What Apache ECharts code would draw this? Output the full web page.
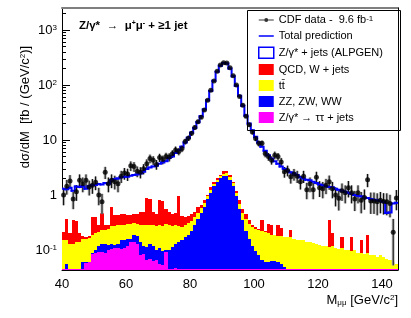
<!DOCTYPE html>
<html><head><meta charset="utf-8">
<script src="https://cdn.jsdelivr.net/npm/echarts@6/dist/echarts.min.js"></script>
<style>html,body{margin:0;padding:0;background:#fff}#c{width:411px;height:318px}</style>
</head><body><div id="c"></div>
<script>
// ---- bins (low edge, GeV/c^2), width 1 ----
const binLow = [40,41,42,43,44,45,46,47,48,49,50,51,52,53,54,55,56,57,58,59,60,61,62,63,64,65,66,67,68,69,
70,71,72,73,74,75,76,77,78,79,80,81,82,83,84,85,86,87,88,89,90,91,92,93,94,95,96,97,98,99,
100,101,102,103,104,105,106,107,108,109,110,111,112,113,114,115,116,117,118,119,120,121,122,123,124,125,126,127,128,129,
130,131,132,133,134,135,136,137,138,139,140,141,142,143,144];
const BIN_W = 1;

// ---- stacked predictions (fb / GeV/c^2) ----
const tautau = [.0455,.0455,.0455,.0455,.0455,.0455,.0455,.058,.06,.085,.09,.092,.093,.09,.1,.105,.11,.11,.105,.11,
.12,.14,.14,.13,.08,.085,.065,.07,.062,.065,.055,.053,.093,.0455,.0455,.047,.0455,.0455,.0455,.0455,
.0455,.0455,.0455,.0455,.0455,.0455,.0455,.0455,.0455,.0455,.0455,.0455,.0455,.0455,.0455,.0455,.0455,.0455,.0455,.0455,
.0455,.0455,.0455,.0455,.0455,.0455,.0455,.0455,.0455,.0455,.0455,.0455,.0455,.0455,.0455,.0455,.0455,.0455,.0455,.0455,
.0455,.0455,.0455,.0455,.0455,.0455,.0455,.0455,.0455,.0455,.0455,.0455,.0455,.0455,.0455,.0455,.0455,.0455,.0455,.0455,
.0455,.0455,.0455,.0455,.0455];
const diboson = [0,.0095,0,0,0,0,.0145,.002,0,.005,.01,.028,.037,.04,.025,.025,.015,.02,.045,.04,
.04,.02,.05,.05,.06,.035,.05,.06,.058,.035,.055,.042,.007,.0545,.0695,.083,.0945,.1045,.1245,.1445,
.1745,.2345,.3145,.4245,.5545,.8045,1.0545,1.4045,1.7045,1.9545,2.1545,2.1545,1.8545,1.4045,.9045,.5045,.3045,.1745,.1145,.0745,
.0495,.0345,.0195,.0145,.0145,.0165,.0165,.0145,.0095,.0045,0,0,0,0,0,0,0,0,0,0,
0,0,0,0,0,0,0,0,0,0,0,0,0,0,0,0,0,0,0,0,0,0,0,0,0];
const ttbar = [.1045,.095,.0845,.0845,.0945,.0945,.1,.1,.105,.1,.1,.09,.1,.1,.115,.14,.145,.15,.13,.14,
.14,.14,.12,.12,.15,.17,.175,.16,.16,.17,.17,.175,.2,.18,.155,.15,.13,.11,.12,.12,
.12,.12,.11,.11,.12,.1,.15,.15,.15,.2,.25,.3,.25,.2,.15,.15,.13,.14,.14,.14,
.145,.15,.155,.15,.14,.128,.128,.12,.125,.12,.1245,.1245,.1145,.1095,.1095,.1045,.0945,.0945,.0895,.0845,
.0795,.0745,.0745,.0695,.0745,.0645,.0595,.0645,.0545,.0545,.0495,.0545,.0445,.0445,.0395,.0445,.0345,.0345,.0295,.0345,
.0295,.0245,.0195,.0145,.0095];
const qcdW = [.06,.22,.07,.22,.2,.06,.02,.01,.015,.21,.2,.07,.24,.05,.04,.33,.16,.15,.18,.16,
.14,.13,.15,.15,.21,.21,.59,.56,.22,.18,.52,.51,.25,.22,.18,.2,.68,.16,.11,.11,
.11,.1,.13,.08,.08,.05,.15,.1,.1,.15,.25,.2,.15,.1,.1,.1,.07,.09,.05,.02,
.02,.01,.13,.01,.1,.095,0,.1,.07,0,0,.06,0,0,0,0,0,0,0,0,
0,0,0,.235,.08,0,0,.06,0,0,.075,0,0,.065,0,.1,0,0,0,0,0,0,0,0,0];
const zjets = [1.09,.9,1.15,.85,1.09,1.2,1.27,1.13,1.27,1.1,1.12,1.3,1.08,1.37,1.32,1.25,1.52,1.57,1.64,1.7,
1.71,1.82,1.84,1.9,1.95,2.15,2.1,2.3,2.8,2.95,2.9,3.12,3.55,4.2,4.55,5.32,5.65,7.08,8.6,10.58,
13.05,16.0,20.4,26.34,35.2,51.0,76.6,118.3,173.0,222.65,247.3,242.3,197.7,143.25,95.8,63.2,41.45,27.55,19.65,14.72,
11.24,8.76,7.15,6.18,5.0,4.315,3.91,3.42,3.05,2.83,2.58,2.37,2.29,2.145,1.945,1.85,1.76,1.71,1.615,1.52,
1.425,1.38,1.33,1.05,1.18,1.19,1.145,1.03,1.05,1.0,.88,.9,.88,.795,.815,.69,.77,.74,.725,.7,
.675,.4,.415,.64,.665];

// ---- CDF data (fb / GeV/c^2) and relative uncertainty ----
const cdfData = [1.0,1.45,1.8,.85,1.15,1.85,1.6,1.85,1.4,1.5,1.7,1.0,.75,2.6,1.6,1.85,1.75,1.6,2.2,2.5,
2.4,3.4,3.3,2.7,2.6,3.0,3.7,4.6,4.3,3.6,4.8,4.4,5.0,4.9,5.6,6.6,6.2,7.0,9.4,10.8,
13.2,16.8,21.5,26,35,53,80,118,178,230,255,252,205,148,100,62,43,27,19,14,
10.7,8.7,8.7,5.7,5.0,4.3,5.3,5.0,4.0,2.65,2.8,2.15,2.4,2.2,1.75,2.2,1.25,1.6,1.25,2.1,
1.35,1.3,1.5,1.75,1.3,1.0,.87,1.2,1.1,1.35,1.1,.85,1.1,.8,.9,1.9,.78,.78,.75,.8,
.76,.75,.7,.21,.88];
const dataRelErr = [.35,.3,.28,.35,.32,.28,.3,.28,.3,.3,.28,.35,.4,.25,.3,.28,.28,.3,.25,.24,
.25,.2,.2,.22,.23,.21,.2,.18,.18,.2,.17,.18,.17,.17,.16,.15,.15,.14,.12,.11,
.1,.09,.08,.07,.06,.05,.04,.03,.03,.03,.03,.03,.03,.03,.04,.05,.06,.07,.08,.1,
.11,.12,.12,.15,.16,.17,.16,.16,.18,.22,.22,.25,.24,.25,.28,.25,.33,.3,.33,.26,
.32,.33,.31,.29,.33,.38,.4,.35,.36,.33,.36,.4,.36,.42,.4,.27,.42,.42,.43,.42,
.42,.43,.44,.75,.4];

// ---- axis ticks ----
const yMinorTicks = [0.05,0.06,0.07,0.08,0.09,0.2,0.3,0.4,0.5,0.6,0.7,0.8,0.9,2,3,4,5,6,7,8,9,
20,30,40,50,60,70,80,90,200,300,400,500,600,700,800,900,2000];

const X_MIN = 40, X_MAX = 145, Y_MIN = 0.04329, Y_MAX = 2512;
const FONT = '"Liberation Sans", Arial, Helvetica, sans-serif';
const DATA_NAME = 'CDF data - 9.6 fb-1';

const layerDefs = [
  {name: 'Z/γ* → ττ + jets', vals: tautau, color: '#ff00ff'},
  {name: 'ZZ, ZW, WW', vals: diboson, color: '#0000ff'},
  {name: 'tt\u0304', vals: ttbar, color: '#ffff00'},
  {name: 'QCD, W + jets', vals: qcdW, color: '#ff0000'},
  {name: 'Z/γ* + jets (ALPGEN)', vals: zjets, color: '#ffffff'}
];

const series = [];
let below = binLow.map(() => Y_MIN);
let running = binLow.map(() => 0);
layerDefs.forEach(L => {
  running = running.map((r, i) => r + L.vals[i]);
  const top = running.slice();
  const bot = below.slice();
  series.push({
    type: 'custom', name: L.name, coordinateSystem: 'cartesian2d', clip: true, silent: true, z: 2,
    itemStyle: {color: L.color},
    encode: {x: [0, 1], y: [2, 3]},
    data: binLow.map((lo, i) => [lo, lo + BIN_W, bot[i], Math.max(top[i], bot[i])]),
    renderItem: function (params, api) {
      const p0 = api.coord([api.value(0), api.value(2)]);
      const p1 = api.coord([api.value(1), api.value(3)]);
      const x0 = Math.round(p0[0]), x1 = Math.round(p1[0]);
      const yb = Math.round(p0[1]), yt = Math.round(p1[1]);
      if (yb - yt <= 0) return null;
      return {type: 'rect', shape: {x: x0, y: yt, width: x1 - x0, height: yb - yt}, style: {fill: L.color}};
    }
  });
  below = top.map((t, i) => Math.max(t, below[i]));
});
const total = running;

// data error bars (behind the prediction line)
series.push({
  type: 'custom', name: 'dataErr', coordinateSystem: 'cartesian2d', clip: true, silent: true, z: 3,
  encode: {x: 0, y: [1, 2]},
  data: binLow.map((lo, i) => [lo + BIN_W / 2, cdfData[i] * (1 - dataRelErr[i]), cdfData[i] * (1 + dataRelErr[i])]),
  renderItem: function (params, api) {
    const x = api.value(0);
    const lo = api.coord([x, api.value(1)]);
    const hi = api.coord([x, api.value(2)]);
    return {type: 'group', children: [
      {type: 'rect', shape: {x: lo[0] - 1.5, y: hi[1], width: 3, height: lo[1] - hi[1]}, style: {fill: '#bcbcbc'}},
      {type: 'line', shape: {x1: lo[0], y1: lo[1], x2: hi[0], y2: hi[1]}, style: {stroke: '#000', lineWidth: 1}}
    ]};
  }
});

// total prediction step line
series.push({
  type: 'custom', name: 'Total prediction', coordinateSystem: 'cartesian2d', clip: true, silent: true, z: 4,
  itemStyle: {color: '#0000ff'},
  encode: {x: [0, 1], y: [2, 3]},
  data: binLow.map((lo, i) => [lo, lo + BIN_W, total[i], i < total.length - 1 ? total[i + 1] : total[i]]),
  renderItem: function (params, api) {
    const a = api.coord([api.value(0), api.value(2)]);
    const b = api.coord([api.value(1), api.value(2)]);
    const c = api.coord([api.value(1), api.value(3)]);
    return {type: 'polyline', shape: {points: [a, b, c]},
      style: {stroke: '#0000ff', lineWidth: 2, fill: null, lineCap: 'square', lineJoin: 'miter'}};
  }
});

// data points
series.push({
  type: 'scatter', name: DATA_NAME, z: 5, silent: true,
  symbol: 'circle', symbolSize: 5,
  itemStyle: {color: '#000'},
  data: binLow.map((lo, i) => [lo + BIN_W / 2, cdfData[i]])
});

const supRich = {
  sup: {fontSize: 8, verticalAlign: 'top', fontFamily: FONT, color: '#000'},
  sub: {fontSize: 8, verticalAlign: 'bottom', fontFamily: FONT, color: '#000'}
};

const yLabelFmt = function (v) {
  const e = Math.round(Math.log10(v));
  if (e === 0) return '1';
  if (e === 1) return '10';
  return '10{sup|' + (e < 0 ? '-' + (-e) : e) + '}';
};

const option = {
  animation: false,
  backgroundColor: '#fff',
  grid: {left: 62, right: 13, top: 8, bottom: 48, containLabel: false},
  title: {
    left: 74, top: 15,
    text: '{b|Z/γ*}  {n|→  μ}{s|+}{n|μ}{s|-}{b| + ≥1 jet}',
    textStyle: {
      fontFamily: FONT, fontSize: 12,
      rich: {
        b: {fontFamily: FONT, fontSize: 11.5, fontWeight: 'bold', color: '#000'},
        n: {fontFamily: FONT, fontSize: 11.5, color: '#000'},
        s: {fontFamily: FONT, fontSize: 7, verticalAlign: 'top', color: '#000'}
      }
    }
  },
  legend: {
    orient: 'vertical', left: 258, top: 14.5, padding: 0,
    itemWidth: 15, itemHeight: 11, itemGap: 5.0,
    selectedMode: false,
    textStyle: {fontFamily: FONT, fontSize: 11, color: '#000', rich: supRich},
    formatter: function (name) {
      if (name === DATA_NAME) return 'CDF data -  9.6 fb{sup|-1}';
      return name;
    },
    data: [
      {name: DATA_NAME, icon: 'path://M0,0h0.01v0.01h-0.01z M0,5h15v1h-15z M5.5,5.5a2,2 0 1,1 4,0a2,2 0 1,1 -4,0z M15,11h-0.01v-0.01h0.01z', itemStyle: {color: '#000', borderWidth: 0}},
      {name: 'Total prediction', icon: 'path://M0,0h0.01v0.01h-0.01z M0,4.75h15v1.5h-15z M15,11h-0.01v-0.01h0.01z', itemStyle: {color: '#0000ff'}},
      {name: 'Z/γ* + jets (ALPGEN)', icon: 'rect', itemStyle: {color: '#ffffff', borderColor: '#0000ff', borderWidth: 1.5}},
      {name: 'QCD, W + jets', icon: 'rect', itemStyle: {color: '#ff0000'}},
      {name: 'tt\u0304', icon: 'rect', itemStyle: {color: '#ffff00'}},
      {name: 'ZZ, ZW, WW', icon: 'rect', itemStyle: {color: '#0000ff'}},
      {name: 'Z/γ* → ττ + jets', icon: 'rect', itemStyle: {color: '#ff00ff'}}
    ]
  },
  graphic: [
    {type: 'rect', left: 245, top: 8, shape: {width: 153, height: 120}, style: {fill: null, stroke: '#000', lineWidth: 1}, z: 10, silent: true},
    {type: 'text', x: 25, y: 107, rotation: Math.PI / 2, silent: true,
      style: {text: 'dσ/dM  [fb / (GeV/c{sup|2})]', fontFamily: FONT, fontSize: 13, fill: '#000',
        align: 'center', verticalAlign: 'middle', rich: supRich}}
  ],
  xAxis: [
    {
      type: 'value', min: X_MIN, max: X_MAX, interval: 20,
      axisLine: {show: true, lineStyle: {color: '#000', width: 1}},
      axisTick: {show: true, inside: true, length: 8, lineStyle: {color: '#000'}},
      splitLine: {show: false},
      axisLabel: {fontFamily: FONT, fontSize: 13, color: '#000', margin: 8, showMaxLabel: false},
      name: 'M{sub|μμ} [GeV/c{sup|2}]',
      nameLocation: 'end', nameGap: 0,
      nameTextStyle: {fontFamily: FONT, fontSize: 13, color: '#000', align: 'right', verticalAlign: 'top', padding: [24, 0, 0, 0], rich: supRich}
    },
    {
      type: 'value', position: 'top', min: X_MIN, max: X_MAX,
      axisLine: {show: true, lineStyle: {color: '#7f7f7f', width: 2}},
      axisTick: {show: false}, axisLabel: {show: false}, splitLine: {show: false}
    }
  ],
  yAxis: [
    {
      type: 'log', logBase: 10, min: Y_MIN, max: Y_MAX,
      axisLine: {show: true, lineStyle: {color: '#000', width: 1}},
      axisTick: {show: true, inside: true, length: 8, lineStyle: {color: '#000'}},
      splitLine: {show: false},
      axisLabel: {fontFamily: FONT, fontSize: 13, color: '#000', margin: 5, showMinLabel: false, showMaxLabel: false,
        formatter: yLabelFmt, rich: supRich}
    },
    {
      type: 'log', logBase: 10, min: Y_MIN, max: Y_MAX, position: 'right', z: 10,
      axisLine: {show: true, onZero: false, lineStyle: {color: '#000', width: 1}},
      axisTick: {show: false}, axisLabel: {show: false}, splitLine: {show: false}
    },
    {
      type: 'log', logBase: 10, min: Y_MIN, max: Y_MAX, position: 'left',
      axisLine: {show: false},
      axisTick: {show: true, inside: true, length: 4, customValues: yMinorTicks, lineStyle: {color: '#000'}},
      axisLabel: {show: false}, splitLine: {show: false}
    }
  ],
  series: series
};

const chart = echarts.init(document.getElementById('c'), null, {renderer: 'canvas'});
chart.setOption(option);
</script>
</body></html>
